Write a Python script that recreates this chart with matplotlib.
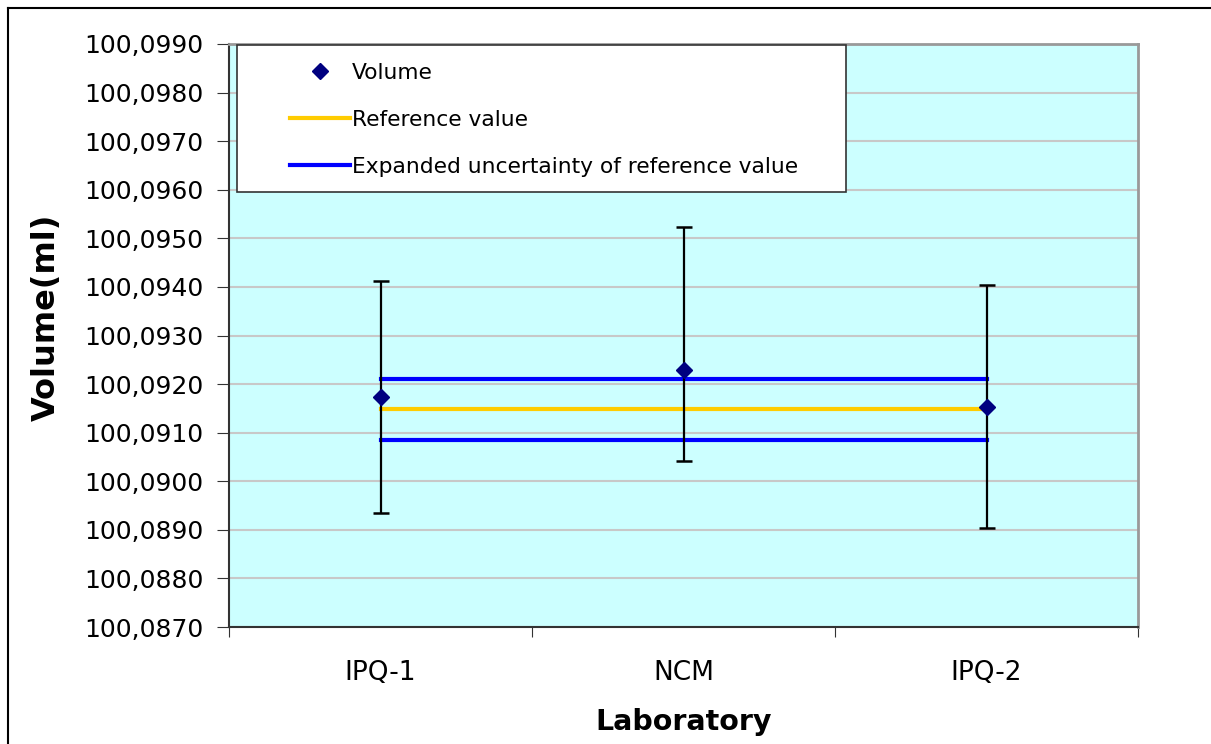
import matplotlib.pyplot as plt
from matplotlib.lines import Line2D
from matplotlib.patches import Rectangle
from matplotlib.ticker import FuncFormatter, MultipleLocator

labs = ["IPQ-1", "NCM", "IPQ-2"]
volume = [100.09173, 100.09229, 100.09153]
err_low = [0.00238, 0.00187, 0.00249]
err_high = [0.00239, 0.00294, 0.00251]
ref_value = 100.09149
ref_upper = 100.09210
ref_lower = 100.09085

plt.rcParams['font.family'] = ['DejaVu Sans']

fig = plt.figure(figsize=(12.11, 7.44), dpi=100)
ax = fig.add_axes([229/1211, 1-627/744, (1138-229)/1211, (627-44)/744])
ax.set_facecolor('#CCFFFF')

x = [1, 2, 3]
ax.plot([1, 3], [ref_upper, ref_upper], color='#0000FF', lw=3, zorder=3)
ax.plot([1, 3], [ref_lower, ref_lower], color='#0000FF', lw=3, zorder=3)
ax.plot([1, 3], [ref_value, ref_value], color='#FFCC00', lw=3, zorder=3)
ax.errorbar(x, volume, yerr=[err_low, err_high], fmt='none', ecolor='black',
            elinewidth=1.6, capsize=6, capthick=1.8, zorder=4)
ax.plot(x, volume, 'D', color='#000080', ms=8.5, zorder=5)

ax.set_xlim(0.5, 3.5)
ax.set_ylim(100.0870, 100.0990)
ax.yaxis.set_major_locator(MultipleLocator(0.001))
ax.yaxis.set_major_formatter(FuncFormatter(lambda v, p: ("%.4f" % v).replace('.', ',')))
ax.set_xticks([0.5, 1.5, 2.5, 3.5])
ax.set_xticklabels([])
ax.set_xticks(x, minor=True)
ax.set_xticklabels(labs, minor=True)
ax.tick_params(axis='x', which='minor', length=0, pad=24, labelsize=19)
ax.tick_params(axis='x', which='major', length=7, direction='out', color='#333333')
ax.tick_params(axis='y', length=8.5, direction='out', labelsize=18, color='#333333', pad=10)
ax.grid(axis='y', color='#C8C8C8', lw=1.5)
ax.set_axisbelow(True)
for s in ['left', 'bottom']:
    ax.spines[s].set_color('#333333')
    ax.spines[s].set_linewidth(1.5)
for s in ['top', 'right']:
    ax.spines[s].set_color('#999999')
    ax.spines[s].set_linewidth(2)

ax.set_ylabel("Volume(ml)", fontsize=23, fontweight='bold')
ax.yaxis.set_label_coords((62-229)/909, (627-317)/583)
ax.set_xlabel("Laboratory", fontsize=20.5, fontweight='bold')
ax.xaxis.set_label_coords(0.5, (627-708)/583)

# legend box
ax.add_patch(Rectangle((8/909, (627-192)/583), 609/909, 147/583, transform=ax.transAxes,
                       facecolor='white', edgecolor='#333333', lw=1.2, zorder=6))
handles = [
    Line2D([], [], marker='D', color='#000080', ls='none', ms=8),
    Line2D([], [], color='#FFCC00', lw=3),
    Line2D([], [], color='#0000FF', lw=3),
]
leg = ax.legend(handles, ["Volume", "Reference value", "Expanded uncertainty of reference value"],
                loc='upper left', bbox_to_anchor=((290-229)/909, (627-63)/583), fontsize=15.7,
                frameon=False, borderpad=0, labelspacing=1.23, handlelength=2.75,
                handletextpad=0.1, borderaxespad=0)
leg.set_zorder(7)

fig.add_artist(Line2D([8/1211, 8/1211], [0, 1-8/744], color='black', lw=1.5))
fig.add_artist(Line2D([8/1211, 1], [1-8/744, 1-8/744], color='black', lw=1.5))

fig.savefig("out.png", dpi=100)
